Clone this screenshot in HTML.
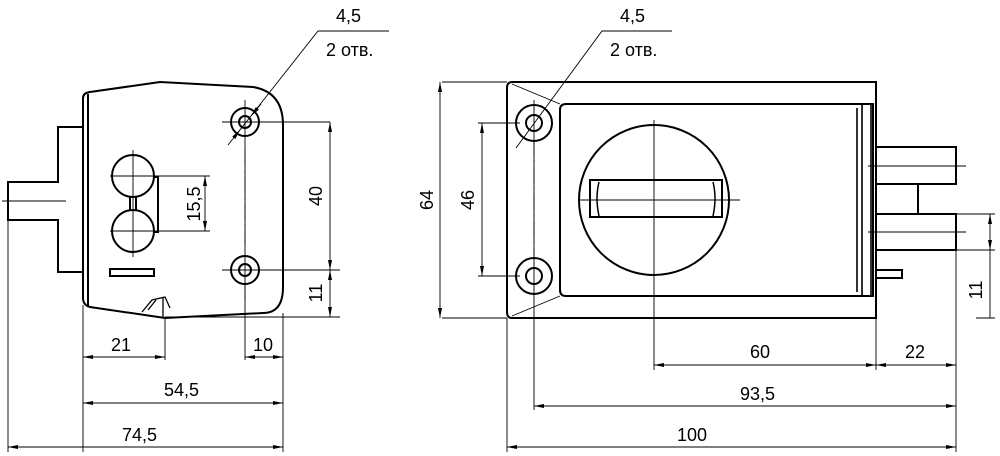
<!DOCTYPE html><html><head><style>body{margin:0;background:#fff}svg{display:block}text{font-family:"Liberation Sans",sans-serif;font-size:18px;fill:#000}</style></head><body>
<svg width="1000" height="456" viewBox="0 0 1000 456" xmlns="http://www.w3.org/2000/svg">
<defs><marker id="a" viewBox="0 0 10 4" refX="10" refY="2" markerWidth="12" markerHeight="4" markerUnits="userSpaceOnUse" orient="auto-start-reverse"><path d="M0,0L10,2L0,4z" fill="#000"/></marker></defs>
<g fill="none" stroke="#000" stroke-width="2">
<path d="M83,98 Q83,93 90,92 L160,82 L253,87 Q283,92 283,125 L283,287 Q283,313 263,313 L165,318 L90,307 Q83,305 83,298 Z"/>
<line x1="88" y1="94" x2="88" y2="306"/>
<path d="M83,127 H58 V182 H8 V220 H58 V272 H83"/>
<circle cx="245" cy="122" r="14"/><circle cx="245" cy="122" r="6"/>
<circle cx="245" cy="270" r="14"/><circle cx="245" cy="270" r="6"/>
<circle cx="133" cy="176" r="21"/><circle cx="133" cy="231" r="21"/>
<path d="M130,196 V211 M136,196 V211"/>
<path d="M153,177 H158 V232 H153"/>
<rect x="110" y="269" width="44" height="7"/>
<path d="M142,312 L152,300 L165,297 L170,308 M148,310 L156,300 M163,298 V317" stroke-width="1.3"/>
<path d="M512,82 H876 V318 H512 Q507,318 507,312 V88 Q507,82 512,82 Z"/>
<path d="M566,104 H873 V296 H566 Q560,296 560,290 V110 Q560,104 566,104 Z"/>
<circle cx="534" cy="123" r="18"/><circle cx="534" cy="123" r="8"/>
<circle cx="534" cy="276" r="18"/><circle cx="534" cy="276" r="8"/>
<circle cx="654" cy="200" r="75"/>
<rect x="590" y="180" width="132" height="37"/>
<path d="M599,182 Q595,198 599,216 M713,182 Q717,198 713,216" stroke-width="1.5"/>
<path d="M857,108 V292 M862,104 V296 M871,104 V296" stroke-width="1.6"/>
<path d="M876,147 H956 V184 H876 M876,214 H956 V250 H876 M918,184 V214 M876,270 H902 V278 H876"/>
</g>
<g fill="none" stroke="#000" stroke-width="0.9">
<path d="M245,100 V300 M222,122 H330 M222,270 H340 M110,176 H210 M110,231 H210 M133,150 V257 M2,201 H66"/>
<path d="M245,150 V245" stroke-dasharray="16,4,3,4"/>
<path d="M8,220 V452 M83,305 V452 M283,313 V452 M165,318 V360 M245,285 V360 M165,317 H340"/>
<path d="M442,82 H507 M478,123 H520 M478,276 H520 M442,318 H507 M534,100 V410 M507,318 V452 M654,120 V370 M578,200 H740 M876,318 V370 M956,250 V452 M956,214 H995 M956,250 H995 M868,166 H966 M868,232 H966"/>
<path d="M534,140 V260" stroke-dasharray="16,4,3,4"/>
<path d="M512,84 L560,104 M512,316 L560,296"/>
<path d="M330,122 V270" marker-start="url(#a)" marker-end="url(#a)"/>
<path d="M330,270 V317" marker-start="url(#a)" marker-end="url(#a)"/>
<path d="M205,176 V231" marker-start="url(#a)" marker-end="url(#a)"/>
<path d="M83,357 H165" marker-start="url(#a)" marker-end="url(#a)"/>
<path d="M245,357 H283" marker-start="url(#a)" marker-end="url(#a)"/>
<path d="M83,403 H283" marker-start="url(#a)" marker-end="url(#a)"/>
<path d="M8,447 H283" marker-start="url(#a)" marker-end="url(#a)"/>
<path d="M440,82 V318" marker-start="url(#a)" marker-end="url(#a)"/>
<path d="M482,123 V276" marker-start="url(#a)" marker-end="url(#a)"/>
<path d="M654,365 H876" marker-start="url(#a)" marker-end="url(#a)"/>
<path d="M876,365 H956" marker-start="url(#a)" marker-end="url(#a)"/>
<path d="M534,406 H956" marker-start="url(#a)" marker-end="url(#a)"/>
<path d="M507,447 H956" marker-start="url(#a)" marker-end="url(#a)"/>
<path d="M990,232 V214" marker-end="url(#a)"/>
<path d="M990,232 V250" marker-end="url(#a)"/>
<path d="M990,250 V318 M976,318 H995"/>
<path d="M389,31 H318 L228,145"/>
<path d="M261,104 L251,116" marker-end="url(#a)"/>
<path d="M236,135 L240,130" marker-end="url(#a)"/>
<path d="M672,31 H602 L516,148"/>
</g>
<text x="336" y="22">4,5</text><text x="326" y="56">2 отв.</text>
<text x="620" y="22">4,5</text><text x="610" y="56">2 отв.</text>
<text x="111" y="351">21</text><text x="253" y="351">10</text>
<text x="164" y="396">54,5</text><text x="122" y="441">74,5</text>
<text x="750" y="358">60</text><text x="905" y="358">22</text>
<text x="740" y="400">93,5</text><text x="677" y="441">100</text>
<text transform="translate(200,204) rotate(-90)" text-anchor="middle">15,5</text>
<text transform="translate(322,196) rotate(-90)" text-anchor="middle">40</text>
<text transform="translate(322,293) rotate(-90)" text-anchor="middle">11</text>
<text transform="translate(433,200) rotate(-90)" text-anchor="middle">64</text>
<text transform="translate(474,200) rotate(-90)" text-anchor="middle">46</text>
<text transform="translate(982,290) rotate(-90)" text-anchor="middle">11</text>
</svg></body></html>
